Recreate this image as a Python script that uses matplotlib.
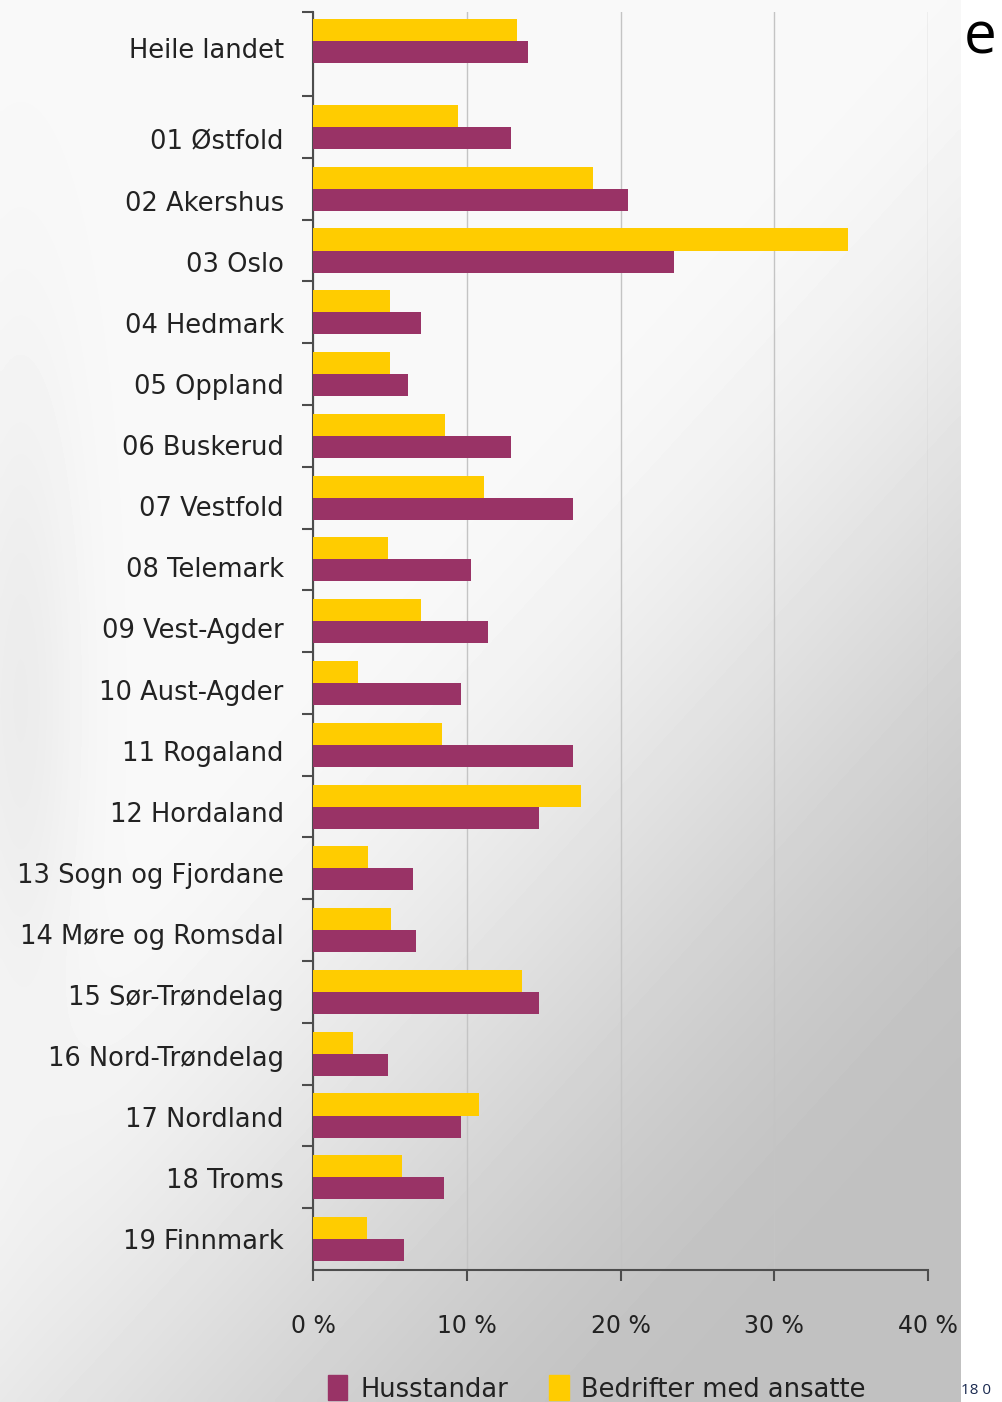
"""Husstandar og bedrifter med ansatte per fylke - liggande stolpediagram."""

import numpy as np
import matplotlib

matplotlib.use("Agg")
import matplotlib.pyplot as plt
from matplotlib.patches import Patch
from matplotlib.transforms import ScaledTranslation

plt.rcParams["font.family"] = ["DejaVu Sans"]

# --- data -------------------------------------------------------------------
regions = [
    "Heile landet",
    "01 Østfold", "02 Akershus", "03 Oslo", "04 Hedmark", "05 Oppland",
    "06 Buskerud", "07 Vestfold", "08 Telemark", "09 Vest-Agder",
    "10 Aust-Agder", "11 Rogaland", "12 Hordaland", "13 Sogn og Fjordane",
    "14 Møre og Romsdal", "15 Sør-Trøndelag", "16 Nord-Trøndelag",
    "17 Nordland", "18 Troms", "19 Finnmark",
]
husstandar = [14.0, 12.9, 20.5, 23.5, 7.0, 6.2, 12.9, 16.9, 10.3, 11.4,
              9.6, 16.9, 14.7, 6.5, 6.7, 14.7, 4.9, 9.6, 8.5, 5.9]
bedrifter = [13.3, 9.4, 18.2, 34.8, 5.0, 5.0, 8.6, 11.1, 4.9, 7.0,
             2.9, 8.4, 17.4, 3.6, 5.1, 13.6, 2.6, 10.8, 5.8, 3.5]
x_ticks = [0, 10, 20, 30, 40]
x_labels = ["0 %", "10 %", "20 %", "30 %", "40 %"]

PURPLE = "#993366"
YELLOW = "#ffcc00"
AXIS = "#4d4d4d"
TEXT = "#222222"

W, H = 1003, 1402
fig = plt.figure(figsize=(W / 100, H / 100), dpi=100)
fig.patch.set_facecolor("white")

# soft grey backdrop behind the chart (image ends at x~961)
bg = fig.add_axes([0, 0, 961 / W, 1], zorder=0)
gx, gy = np.meshgrid(np.linspace(0, 1, 300), np.linspace(0, 1, 400))
t = np.clip((gx * 0.6 + gy * 0.8 - 0.55) / 0.7, 0, 1)
shade = 0.975 - 0.22 * t * t * (3 - 2 * t)
shade -= 0.05 * np.exp(-((gx - 0.02) ** 2 / 0.004 + (gy - 0.5) ** 2 / 0.06))
bg.imshow(shade, cmap="gray", vmin=0, vmax=1, aspect="auto",
          extent=[0, 1, 1, 0], interpolation="bicubic")
bg.axis("off")

# --- main axes --------------------------------------------------------------
ax = fig.add_axes([313 / W, 1 - 1270 / H, (928 - 313) / W, (1270 - 12) / H],
                  zorder=1)
ax.set_facecolor("none")

pos = np.r_[-1.39, np.arange(len(regions) - 1)]
bh = 0.357
ax.barh(pos - bh / 2, bedrifter, height=bh, color=YELLOW, zorder=3)
ax.barh(pos + bh / 2, husstandar, height=bh, color=PURPLE, zorder=3)

ax.set_xlim(0, 40)
ax.set_ylim(18.5, -1.86)

ax.set_xticks(x_ticks)
ax.set_xticklabels(x_labels, fontsize=17, color=TEXT)
ax.tick_params(axis="x", direction="out", length=8, width=1.5, color=AXIS,
               pad=24)
ax.xaxis.grid(True, color="#c4c4c4", linewidth=1.0, zorder=0)
ax.set_axisbelow(True)

ax.set_yticks(pos)
ax.set_yticklabels(regions, fontsize=18.5, color=TEXT)
ax.tick_params(axis="y", which="major", length=0, pad=21)
for i, lab in enumerate(ax.get_yticklabels()):
    dy = 7 if i == 0 else 13 - 0.72 * (i - 1)
    lab.set_transform(lab.get_transform()
                      + ScaledTranslation(0, -dy / 100, fig.dpi_scale_trans))
ax.set_yticks(np.r_[-1.86, np.arange(-0.5, 18.0, 1.0)], minor=True)
ax.tick_params(axis="y", which="minor", direction="out", length=8, width=1.5,
               color=AXIS)

for side in ("top", "right"):
    ax.spines[side].set_visible(False)
for side in ("left", "bottom"):
    ax.spines[side].set_color(AXIS)
    ax.spines[side].set_linewidth(1.5)

# --- legend -----------------------------------------------------------------
handles = [Patch(color=PURPLE, label="Husstandar"),
           Patch(color=YELLOW, label="Bedrifter med ansatte")]
fig.legend(handles=handles, loc="center left", ncol=2, frameon=False,
           bbox_to_anchor=(305 / W, 1 - 1389 / H), fontsize=18.5,
           handlelength=0.75, handleheight=1.1, handletextpad=0.5,
           columnspacing=1.6, labelcolor=TEXT)

# stray text cut off at the page edge
fig.text(964 / W, 1 - 38 / H, "e", fontsize=42, va="center", ha="left",
         color="black", family="Open Sans")
fig.text(961 / W, 1 - 1390 / H, "18 0", fontsize=11, va="center",
         ha="left", color="#1a2a50", family="Open Sans")

fig.savefig("out.png", dpi=100)
